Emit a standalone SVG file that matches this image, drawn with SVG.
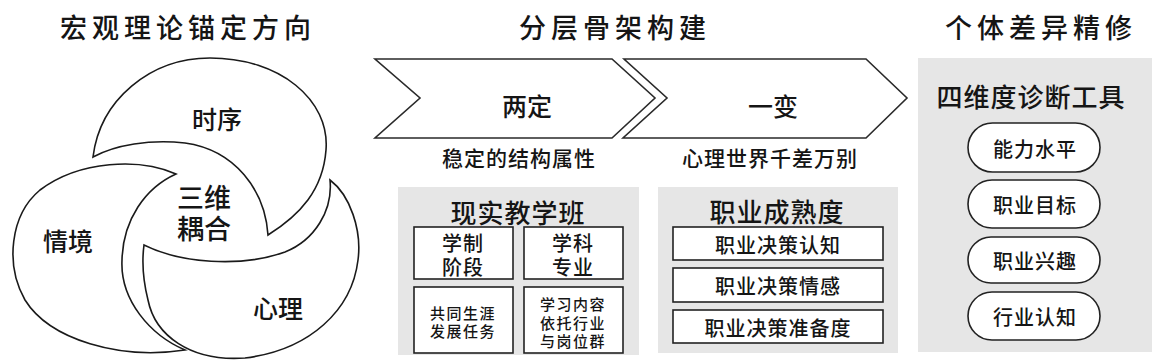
<svg xmlns="http://www.w3.org/2000/svg" width="1156" height="360" viewBox="0 0 1156 360">
<style>
text{font-family:"Noto Sans CJK SC","Noto Sans",sans-serif;fill:#151515;text-anchor:middle;dominant-baseline:central;font-weight:500}
.h{font-size:27px;letter-spacing:5px}
.cres{fill:#fff;stroke:#1a1a1a;stroke-width:1.6}
.chev{fill:#fff;stroke:#2a2a2a;stroke-width:1.6}
.panel{fill:#e6e6e6}
.box{fill:#fff;stroke:#222;stroke-width:1.6}
.l{font-size:25px}
.s{font-size:21px;letter-spacing:1px}
.b{font-size:20px;letter-spacing:1px}
.sm{font-size:15px;letter-spacing:1.5px}
.pt{font-size:26px;letter-spacing:1px}
</style>
<rect width="1156" height="360" fill="#fff"/>
<g id="titles">
<text class="h" x="188" y="26">宏观理论锚定方向</text>
<text class="h" x="615" y="26">分层骨架构建</text>
<text class="h" x="1041" y="26">个体差异精修</text>
</g>
<g id="theory">
<g id="n-shixu">
<path class="cres" d="M93,157 C100,100 150,58 210,58 C280,58 330,100 326,150 C323,190 300,215 268,235 C265,190 235,150 185,143 C150,139 115,145 93,157 Z"/>
<text class="l" x="217" y="118">时序</text>
</g>
<g id="n-qingjing">
<path class="cres" d="M176,174 C140,158 80,160 40,190 C10,215 5,265 25,300 C50,340 120,360 185,350 C150,335 120,300 122,260 C123,220 145,188 176,174 Z"/>
<text class="l" x="68" y="240">情境</text>
</g>
<g id="n-xinli">
<path class="cres" d="M144,245 C180,263 240,268 285,252 C315,240 333,210 330,180 C350,195 362,230 358,260 C352,310 310,350 245,358 C190,362 155,335 148,300 C143,280 142,260 144,245 Z"/>
<text class="l" x="278" y="307">心理</text>
</g>
<g id="n-core">
<text class="l" x="204" y="196" style="font-size:27px">三维<tspan x="204" dy="31">耦合</tspan></text>
</g>
</g>
<g id="skeleton">
<g id="n-liangding">
<path class="chev" d="M375,59 L612,59 L655,98 L612,138 L375,138 L420,98 Z"/>
<text class="l" x="527" y="105">两定</text>
<text class="s" x="519" y="157">稳定的结构属性</text>
</g>
<g id="n-yibian">
<path class="chev" d="M624,59 L866,59 L907,98 L866,138 L623,138 L667,98 Z"/>
<text class="l" x="773" y="105">一变</text>
<text class="s" x="770" y="157">心理世界千差万别</text>
</g>
<g id="n-class">
<rect class="panel" x="398" y="187" width="241" height="168"/>
<text class="pt" x="518" y="211">现实教学班</text>
<rect class="box" x="414" y="227" width="99" height="52"/>
<text class="b" x="463" y="242">学制<tspan x="463" dy="24">阶段</tspan></text>
<rect class="box" x="524" y="227" width="99" height="52"/>
<text class="b" x="573" y="242">学科<tspan x="573" dy="24">专业</tspan></text>
<rect class="box" x="414" y="287" width="99" height="66"/>
<text class="sm" x="463" y="312">共同生涯<tspan x="463" dy="18">发展任务</tspan></text>
<rect class="box" x="524" y="287" width="99" height="66"/>
<text class="sm" x="573" y="303">学习内容<tspan x="573" dy="18.5">依托行业</tspan><tspan x="573" dy="18.5">与岗位群</tspan></text>
</g>
<g id="n-maturity">
<rect class="panel" x="658" y="187" width="240" height="166"/>
<text class="pt" x="777" y="210">职业成熟度</text>
<rect class="box" x="673" y="227" width="210" height="33"/>
<text class="b" x="778" y="244">职业决策认知</text>
<rect class="box" x="673" y="268" width="210" height="34"/>
<text class="b" x="778" y="285">职业决策情感</text>
<rect class="box" x="673" y="310" width="210" height="33"/>
<text class="b" x="778" y="327">职业决策准备度</text>
</g>
</g>
<g id="n-tools">
<rect class="panel" x="918" y="58" width="234" height="294"/>
<text class="pt" x="1031" y="95">四维度诊断工具</text>
<rect class="box" x="968" y="123" width="132" height="49" rx="24.5"/>
<text class="b" x="1035" y="148">能力水平</text>
<rect class="box" x="968" y="180" width="132" height="48" rx="24"/>
<text class="b" x="1035" y="204">职业目标</text>
<rect class="box" x="968" y="237" width="132" height="46" rx="23"/>
<text class="b" x="1035" y="260">职业兴趣</text>
<rect class="box" x="968" y="292" width="132" height="48" rx="24"/>
<text class="b" x="1035" y="316">行业认知</text>
</g>
<g id="connectors"></g>
</svg>
